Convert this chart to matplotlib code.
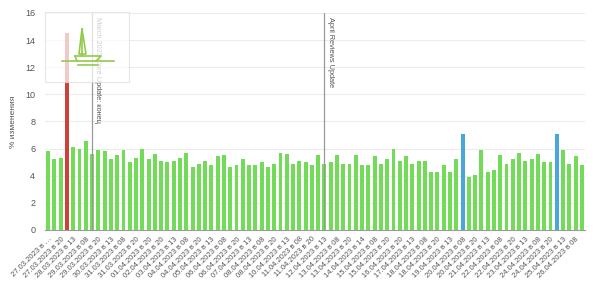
import matplotlib
matplotlib.use("Agg")
import matplotlib.pyplot as plt
from matplotlib.lines import Line2D
from matplotlib.patches import Rectangle
import numpy as np

plt.rcParams['font.family'] = ['Liberation Sans', 'DejaVu Sans']

# data
values = [5.81, 5.2, 5.32, 14.5, 6.13, 6.0, 6.59, 5.59, 5.91, 5.81,
          5.2, 5.51, 5.91, 5.02, 5.34, 6.0, 5.2, 5.59, 5.1, 5.02,
          5.1, 5.34, 5.71, 4.63, 4.9, 5.1, 4.8, 5.44, 5.51, 4.63,
          4.8, 5.2, 4.8, 4.8, 5.0, 4.63, 4.88, 5.71, 5.59, 4.88,
          5.1, 5.0, 4.8, 5.51, 4.88, 5.0, 5.51, 4.88, 4.88, 5.51,
          4.8, 4.8, 5.42, 4.88, 5.2, 6.0, 5.1, 5.42, 4.88, 5.1,
          5.1, 4.31, 4.31, 4.8, 4.31, 5.2, 7.08, 3.9, 4.09, 5.88,
          4.31, 4.41, 5.51, 4.88, 5.2, 5.71, 5.1, 5.2, 5.59, 5.0,
          5.0, 7.08, 5.88, 4.88, 5.44, 4.8]

red_bars = [3]
blue_bars = [66, 81]

tick_labels = ["27.03.2023 в …", "27.03.2023 в 20", "28.03.2023 в 13", "29.03.2023 в 08",
               "29.03.2023 в 20", "30.03.2023 в 13", "31.03.2023 в 08", "31.03.2023 в 20",
               "01.04.2023 в 20", "02.04.2023 в 20", "03.04.2023 в 13", "04.04.2023 в 08",
               "04.04.2023 в 20", "05.04.2023 в 13", "06.04.2023 в 08", "06.04.2023 в 20",
               "07.04.2023 в 13", "08.04.2023 в 08", "08.04.2023 в 20", "10.04.2023 в 13",
               "11.04.2023 в 08", "11.04.2023 в 20", "12.04.2023 в 13", "13.04.2023 в 08",
               "13.04.2023 в 20", "14.04.2023 в 14", "15.04.2023 в 08", "15.04.2023 в 20",
               "16.04.2023 в 20", "17.04.2023 в 13", "18.04.2023 в 08", "18.04.2023 в 20",
               "19.04.2023 в 13", "20.04.2023 в 08", "20.04.2023 в 20", "21.04.2023 в 13",
               "22.04.2023 в 08", "22.04.2023 в 20", "23.04.2023 в 13", "24.04.2023 в 08",
               "24.04.2023 в 20", "25.04.2023 в 13", "26.04.2023 в 08"]

events = [(7, "March 2023 Core Update: конец"), (44, "April Reviews Update")]

green = "#72dc58"
red = "#d0403a"
blue = "#4aa7dc"
grey_text = "#555555"

fig = plt.figure(figsize=(6, 2.94), dpi=100)
ax = fig.add_axes([0.075, 0.2177, 0.9, 0.7383])

x = np.arange(len(values))
colors = [green] * len(values)
for i in red_bars:
    colors[i] = red
for i in blue_bars:
    colors[i] = blue
ax.bar(x, values, width=0.62, color=colors, zorder=2)

ax.set_xlim(-0.5, len(values) - 0.5)
ax.set_ylim(0, 16)
ax.set_yticks(np.arange(0, 17, 2))
ax.yaxis.grid(True, color="#ececec", linewidth=0.8, zorder=0)
ax.set_axisbelow(True)
for s in ["top", "right", "left"]:
    ax.spines[s].set_visible(False)
ax.spines["bottom"].set_color("#999999")
ax.spines["bottom"].set_linewidth(0.8)
ax.tick_params(axis="y", length=0, labelsize=6.5, colors=grey_text, pad=7)
ax.set_xticks(x[::2])
ax.set_xticklabels(tick_labels, rotation=45, ha="right", rotation_mode="anchor",
                   fontsize=5.5, color=grey_text)
ax.tick_params(axis="x", length=0, pad=4)
ax.set_ylabel("% изменения", fontsize=6, color=grey_text)
ax.yaxis.set_label_coords(-0.052, 0.5)

for pos, label in events:
    ax.axvline(pos, color="#999999", linewidth=0.9, zorder=3)
    ax.text(pos + 0.35, 15.7, label, rotation=-90, va="top", ha="left",
            fontsize=5.3, color=grey_text, zorder=3)

# watermark box with the sailboat logo (figure pixels)
W, H = 600, 294
def fx(px):
    return px / W
def fy(py):
    return 1 - py / H

box = Rectangle((fx(45), fy(82)), fx(129) - fx(45), fy(12) - fy(82),
                transform=fig.transFigure, facecolor="white", alpha=0.72,
                edgecolor="#dddddd", linewidth=0.8, zorder=5)
fig.add_artist(box)
logo = "#93c94a"
segs = [
    [(82, 29), (79, 54), (86, 54), (82, 29)],
    [(82, 29), (82, 56)],
    [(62, 61), (114, 61)],
    [(75, 56), (101, 56), (96, 61)],
    [(75, 56), (77, 61)],
    [(78, 65), (98, 65)],
]
for seg in segs:
    xs = [fx(p[0]) for p in seg]
    ys = [fy(p[1]) for p in seg]
    fig.add_artist(Line2D(xs, ys, transform=fig.transFigure, color=logo,
                          linewidth=1.2, zorder=6))

fig.savefig("out.png", dpi=100)
